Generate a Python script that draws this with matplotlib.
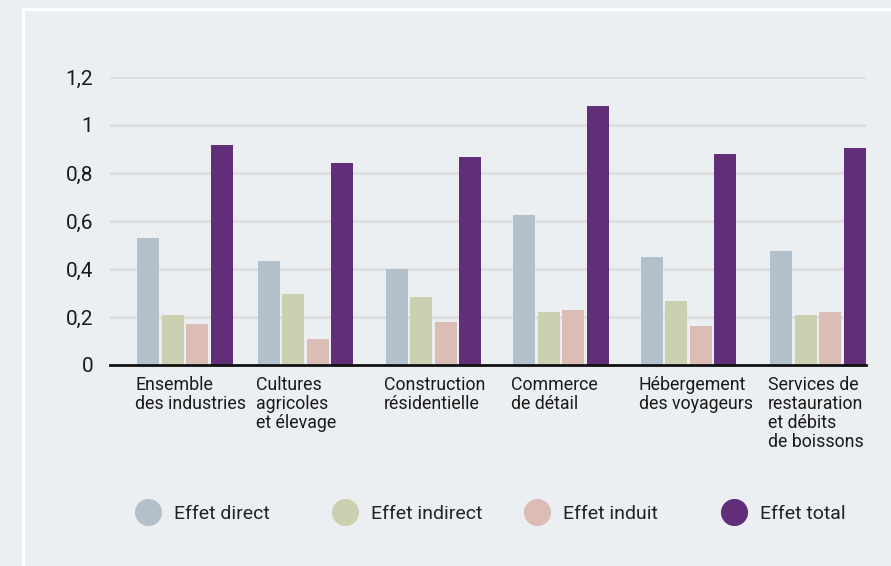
import matplotlib
matplotlib.use("Agg")
import matplotlib.pyplot as plt
from matplotlib.lines import Line2D
from matplotlib.patches import Rectangle
import numpy as np

categories = [
    "Ensemble\ndes industries",
    "Cultures\nagricoles\net élevage",
    "Construction\nrésidentielle",
    "Commerce\nde détail",
    "Hébergement\ndes voyageurs",
    "Services de\nrestauration\net débits\nde boissons",
]
series_names = ["Effet direct", "Effet indirect", "Effet induit", "Effet total"]
effet_direct = [0.53, 0.435, 0.40, 0.627, 0.452, 0.473]
effet_indirect = [0.21, 0.295, 0.285, 0.22, 0.266, 0.207]
effet_induit = [0.17, 0.108, 0.178, 0.228, 0.162, 0.22]
effet_total = [0.917, 0.84, 0.867, 1.08, 0.88, 0.905]
yticks = [0, 0.2, 0.4, 0.6, 0.8, 1.0, 1.2]
ytick_labels = ["0", "0,2", "0,4", "0,6", "0,8", "1", "1,2"]

colors = ["#B2C0CB", "#CBD0B1", "#DBBDB6", "#612E79"]
bg = "#ECEFF2"

plt.rcParams["font.family"] = ["Roboto", "DejaVu Sans"]

W, H = 891, 566
fig = plt.figure(figsize=(W / 100, H / 100), dpi=100, facecolor=bg)

# white frame
fig.patches.append(Rectangle((22.5 / W, -0.1), 2.0, 1.1 - 9.5 / H,
                             transform=fig.transFigure, fill=False,
                             edgecolor="white", linewidth=2.2, zorder=0))

ax_l, ax_r = 110, 866
y0, y12 = 365, 77
ax = fig.add_axes([ax_l / W, 1 - y0 / H, (ax_r - ax_l) / W, (y0 - y12) / H])
ax.set_facecolor(bg)

# group centres (layout, slightly uneven as in the original)
x = np.array([0, 0.953, 1.963, 2.97, 3.977, 5.0])
spacing_px = 126.6
pitch = 24.5 / spacing_px
width = 22 / spacing_px
data = [effet_direct, effet_indirect, effet_induit, effet_total]
for i, (vals, c) in enumerate(zip(data, colors)):
    ax.bar(x + (i - 1.5) * pitch, vals, width=width, color=c, zorder=3,
           label=series_names[i])

ax.set_xlim(-75 / spacing_px, 5 + 48 / spacing_px)
ax.set_ylim(0, 1.2)
ax.set_yticks(yticks)
ax.set_yticklabels(ytick_labels, fontsize=15, color="#1a1a1a")
ax.tick_params(axis="y", length=0, pad=12)
ax.set_xticks([])
ax.grid(axis="y", color="#DCDCDC", linewidth=1.8, zorder=0)
for s in ["top", "right", "left"]:
    ax.spines[s].set_visible(False)
ax.spines["bottom"].set_color("#111111")
ax.spines["bottom"].set_linewidth(2)
ax.spines["bottom"].set_zorder(4)

# category labels, left-aligned at group start
trans = ax.get_xaxis_transform()
for xi, lab in zip(x, categories):
    left = xi - 1.5 * pitch - width / 2 - 2 / spacing_px
    ax.text(left, -11 / (y0 - y12), lab, transform=trans, ha="left", va="top",
            fontsize=12.8, color="#1a1a1a", linespacing=1.08)

# legend entries
leg_centers = [148, 345, 537, 734]
leg_y = 1 - 514 / H
for name, c, cx in zip(series_names, colors, leg_centers):
    h = Line2D([], [], marker="o", linestyle="", markersize=18.5, color=c)
    fig.legend([h], [name], loc="center left",
               bbox_to_anchor=((cx - 10.8) / W, leg_y),
               frameon=False, fontsize=14, handlelength=1.1,
               handletextpad=0.8, borderpad=0, borderaxespad=0,
               labelcolor="#222222")

fig.savefig("out.png", dpi=100, facecolor=bg)
